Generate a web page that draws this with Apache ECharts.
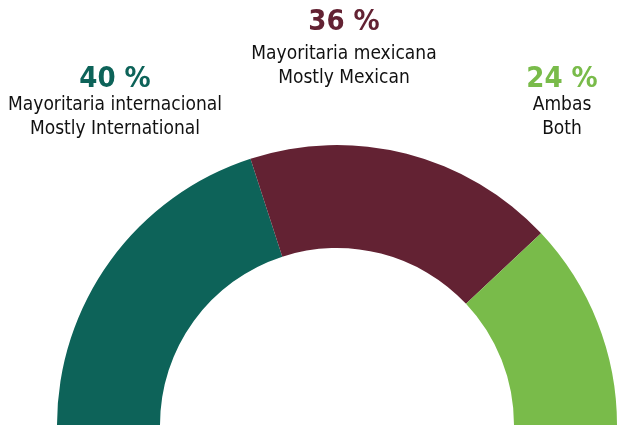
<!DOCTYPE html>
<html><head><meta charset="utf-8">
<style>html,body{margin:0;padding:0;background:#fff}#c{width:619px;height:425px}</style>
<script src="https://cdn.jsdelivr.net/npm/echarts@6/dist/echarts.min.js"></script>
</head><body><div id="c"></div>
<script>
const categories = ['Mayoritaria internacional\nMostly International', 'Mayoritaria mexicana\nMostly Mexican', 'Ambas\nBoth'];
const values = [40, 36, 24];
const colors = ['#0d6359', '#632233', '#79bb4a'];
const labelPos = [[115, 79, 117], [344, 22, 66], [562, 79, 117]];

const FONT = '"Liberation Sans Narrow","DejaVu Sans Condensed","Roboto",sans-serif';
const chart = echarts.init(document.getElementById('c'), null, {renderer: 'canvas'});
const total = values.reduce((a, b) => a + b, 0);
const data = values.map((v, i) => ({name: categories[i], value: v, itemStyle: {color: colors[i]}}));
data.push({name: 'hidden', value: total, itemStyle: {color: 'rgba(0,0,0,0)'}, label: {show: false}, emphasis: {disabled: true}});

const graphic = [];
values.forEach((v, i) => {
  graphic.push({type: 'text', x: labelPos[i][0], y: labelPos[i][1],
    style: {text: v + ' %', fill: colors[i], font: 'bold 29px ' + FONT, align: 'center', verticalAlign: 'middle'}});
  graphic.push({type: 'text', x: labelPos[i][0], y: labelPos[i][2],
    style: {text: categories[i], fill: '#111', font: '19px ' + FONT, align: 'center', verticalAlign: 'middle', lineHeight: 24}});
});

chart.setOption({
  animation: false,
  graphic: graphic,
  series: [{
    type: 'pie', center: [337, 425], radius: [177, 280], startAngle: 180, clockwise: true,
    label: {show: false}, labelLine: {show: false}, silent: true,
    itemStyle: {borderWidth: 0},
    data: data
  }]
});
</script></body></html>
